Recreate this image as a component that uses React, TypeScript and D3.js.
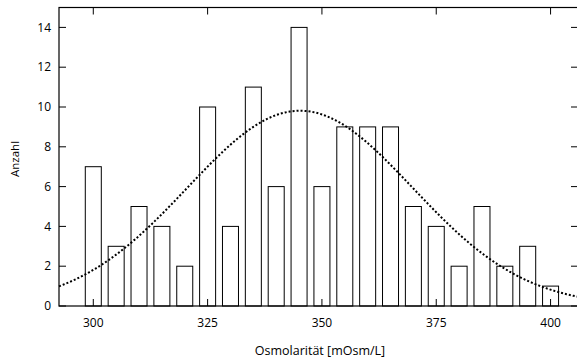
import React from "react";
import * as d3 from "d3";

const binCenters = [300, 305, 310, 315, 320, 325, 330, 335, 340, 345, 350, 355, 360, 365, 370, 375, 380, 385, 390, 395, 400];
const counts = [7, 3, 5, 4, 2, 10, 4, 11, 6, 14, 6, 9, 9, 9, 5, 4, 2, 5, 2, 3, 1];
const xTicks = [300, 325, 350, 375, 400];
const yTicks = [0, 2, 4, 6, 8, 10, 12, 14];
const fitMean = 345.2;
const fitSd = 24.6;
const binWidth = 5;
const barWidthUnits = 3.5;

export default function App() {
  const W = 577, H = 360;
  const left = 59, right = 578, top = 7.5, bottom = 306;
  const x = d3.scaleLinear().domain([292.5, 406]).range([left, right]);
  const y = d3.scaleLinear().domain([0, 15]).range([bottom, top]);
  const n = d3.sum(counts);
  const curveXs = d3.range(292.5, 406.01, 0.5);
  const curveData = curveXs.map((v) => [
    v,
    (n * binWidth) / (fitSd * Math.sqrt(2 * Math.PI)) * Math.exp(-0.5 * ((v - fitMean) / fitSd) ** 2),
  ]);
  const line = d3.line<number[]>().x((d) => x(d[0])).y((d) => y(d[1]));
  const font = "'Open Sans', 'DejaVu Sans', sans-serif";
  return (
    <svg width={W} height={H} style={{ position: "absolute", left: 0, top: 0, background: "#fff" }}>
      <rect x={0} y={0} width={W} height={H} fill="#fff" />
      {counts.map((c, i) => (
        <rect
          key={i}
          x={x(binCenters[i] - barWidthUnits / 2)}
          y={y(c)}
          width={x(binCenters[i] + barWidthUnits / 2) - x(binCenters[i] - barWidthUnits / 2)}
          height={y(0) - y(c)}
          fill="none"
          stroke="#000"
          strokeWidth={1}
        />
      ))}
      <path d={line(curveData) || ""} fill="none" stroke="#000" strokeWidth={2} strokeDasharray="2,2" />
      <rect x={left} y={top} width={right - left} height={bottom - top} fill="none" stroke="#000" strokeWidth={1.2} />
      {yTicks.map((t) => (
        <g key={"y" + t}>
          <line x1={left} x2={left + 7} y1={y(t)} y2={y(t)} stroke="#000" />
          <line x1={right - 7} x2={right} y1={y(t)} y2={y(t)} stroke="#000" />
          <text x={left - 8} y={y(t)} dy="0.35em" textAnchor="end" fontFamily={font} fontSize={12} fill="#000">
            {t}
          </text>
        </g>
      ))}
      {xTicks.map((t) => (
        <g key={"x" + t}>
          <line x1={x(t)} x2={x(t)} y1={bottom} y2={bottom - 7} stroke="#000" />
          <line x1={x(t)} x2={x(t)} y1={top} y2={top + 7} stroke="#000" />
          <text x={x(t)} y={bottom + 21} textAnchor="middle" fontFamily={font} fontSize={12} fill="#000">
            {t}
          </text>
        </g>
      ))}
      <text x={320} y={355} textAnchor="middle" fontFamily={font} fontSize={12.5} fill="#000">
        Osmolarität [mOsm/L]
      </text>
      <text transform={`translate(19,159) rotate(-90)`} textAnchor="middle" fontFamily={font} fontSize={11.5} fill="#000">
        Anzahl
      </text>
    </svg>
  );
}
